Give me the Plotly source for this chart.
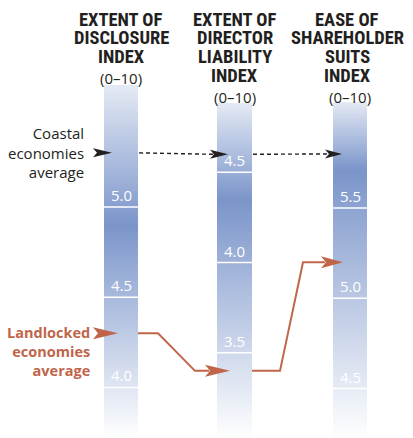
import numpy as np
import plotly.graph_objects as go

# ---------------- data ----------------
title_lines = [
    ["EXTENT OF", "DISCLOSURE", "INDEX"],
    ["EXTENT OF", "DIRECTOR", "LIABILITY", "INDEX"],
    ["EASE OF", "SHAREHOLDER", "SUITS", "INDEX"],
]
scale_label = "(0–10)"
tick_values = [[4.0, 4.5, 5.0], [3.5, 4.0, 4.5], [4.5, 5.0, 5.5]]
tick_labels = [["4.0", "4.5", "5.0"], ["3.5", "4.0", "4.5"], ["4.5", "5.0", "5.5"]]
coastal = [5.3, 4.6, 5.8]
landlocked = [4.3, 3.4, 5.2]
coastal_label = "Coastal<br>economies<br>average"
landlocked_label = "Landlocked<br>economies<br>average"

# ---------------- layout / style ----------------
W, H = 413, 438
col_x = [(104, 138), (217, 252), (333, 367)]
title_cx = [121, 234.5, 347]
y_bottom = [3.720, 3.028, 4.226]
span = 2.427
px = H / span  # pixels per index unit
bar_top = [5.676, 4.884, 6.087]
bar_dark = [4.90, 4.35, 5.71]
axes = ["y", "y2", "y3"]
BLACK = "#231f20"
ORANGE = "#c0654a"
DARK = "#7b95ca"
NUM_FONT = "Open Sans, Noto Sans, sans-serif"
TITLE_FONT = "Roboto Condensed, Open Sans Condensed, Roboto, sans-serif"


def to_y1(v, k):
    return v - y_bottom[k] + y_bottom[0]


fig = go.Figure()

# gradient columns
for k in range(3):
    edges = np.arange(y_bottom[k], bar_top[k] + 1e-9, 0.005)
    edges = np.append(edges, bar_top[k])
    mids = (edges[:-1] + edges[1:]) / 2
    z = np.where(
        mids <= bar_dark[k],
        (mids - y_bottom[k]) / (bar_dark[k] - y_bottom[k]),
        1 - 0.8 * (mids - bar_dark[k]) / (bar_top[k] - bar_dark[k]),
    )
    fig.add_trace(go.Heatmap(
        x=list(col_x[k]), y=edges, z=z.reshape(-1, 1),
        colorscale=[[0, "#ffffff"], [1, DARK]], zmin=0, zmax=1,
        showscale=False, hoverinfo="skip", yaxis=axes[k], xaxis="x",
    ))

shapes = []
annotations = []

# tick lines and labels
for k in range(3):
    x0, x1 = col_x[k]
    for v, lab in zip(tick_values[k], tick_labels[k]):
        shapes.append(dict(type="line", xref="x", yref=axes[k], x0=x0, x1=x1, y0=v, y1=v,
                           line=dict(color="white", width=1.5)))
        annotations.append(dict(xref="x", yref=axes[k], x=(x0 + x1) / 2, y=v, text=lab,
                                showarrow=False, yanchor="bottom", xanchor="center",
                                font=dict(family=NUM_FONT, size=15, color="white")))

# titles
for k in range(3):
    for i, line in enumerate(title_lines[k]):
        py = 20 + i * 18.5
        annotations.append(dict(xref="paper", yref="paper", x=title_cx[k] / W, y=1 - py / H,
                                text="<b>%s</b>" % line, showarrow=False, yanchor="middle",
                                xanchor="center",
                                font=dict(family=TITLE_FONT, size=18.5, color=BLACK)))
    py = 20 + len(title_lines[k]) * 18.5 + 3
    annotations.append(dict(xref="paper", yref="paper", x=(col_x[k][0] + col_x[k][1]) / 2 / W,
                            y=1 - py / H, text=scale_label, showarrow=False, yanchor="middle",
                            xanchor="center", font=dict(family=NUM_FONT, size=15, color=BLACK)))


def head(tip_x, v1, L, hh, notch, color):
    hd = hh / px
    return dict(type="path", xref="x", yref="y", fillcolor=color, line=dict(width=0),
                path="M %f,%f L %f,%f L %f,%f L %f,%f Z" % (
                    tip_x, v1, tip_x - L, v1 + hd, tip_x - L + notch, v1, tip_x - L, v1 - hd))


# coastal arrows
c_tip = [112, 228, 342]
c_len = [19, 18, 17]
for k in range(3):
    shapes.append(head(c_tip[k], to_y1(coastal[k], k), c_len[k], 4.5, 4, BLACK))
for k in range(2):
    fig.add_trace(go.Scatter(
        x=[col_x[k][1] + 1, c_tip[k + 1] - c_len[k + 1] + 3],
        y=[to_y1(coastal[k], k), to_y1(coastal[k + 1], k + 1)],
        mode="lines", line=dict(color=BLACK, width=1.4, dash="4px,3px"),
        hoverinfo="skip", showlegend=False, yaxis="y"))

# landlocked arrows
l_tip = [118, 230, 343]
l_len = [25, 25, 22]
for k in range(3):
    shapes.append(head(l_tip[k], to_y1(landlocked[k], k), l_len[k], 6, 5, ORANGE))
bends = [(158, 195), (280, 303)]
for k in range(2):
    a = to_y1(landlocked[k], k)
    b = to_y1(landlocked[k + 1], k + 1)
    fig.add_trace(go.Scatter(
        x=[col_x[k][1], bends[k][0], bends[k][1], l_tip[k + 1] - l_len[k + 1] + 4],
        y=[a, a, b, b], mode="lines", line=dict(color=ORANGE, width=2),
        hoverinfo="skip", showlegend=False, yaxis="y"))

# side labels
annotations.append(dict(xref="x", yref="y", x=86, y=coastal[0], text=coastal_label,
                        showarrow=False, xanchor="right", yanchor="middle", align="right",
                        font=dict(family=NUM_FONT, size=15, color=BLACK)))
annotations.append(dict(xref="x", yref="y", x=92, y=landlocked[0], yshift=-18,
                        text="<b>%s</b>" % landlocked_label,
                        showarrow=False, xanchor="right", yanchor="middle", align="right",
                        font=dict(family=NUM_FONT, size=14.5, color=ORANGE)))

ax_common = dict(visible=False, fixedrange=True)
fig.update_layout(
    width=W, height=H, margin=dict(l=0, r=0, t=0, b=0),
    paper_bgcolor="white", plot_bgcolor="white", showlegend=False,
    xaxis=dict(range=[0, W], **ax_common),
    yaxis=dict(range=[y_bottom[0], y_bottom[0] + span], **ax_common),
    yaxis2=dict(range=[y_bottom[1], y_bottom[1] + span], overlaying="y", **ax_common),
    yaxis3=dict(range=[y_bottom[2], y_bottom[2] + span], overlaying="y", **ax_common),
    shapes=shapes, annotations=annotations,
)

fig.write_html("out.html", config={"displayModeBar": False},
               post_script="document.body.style.margin='0';")
